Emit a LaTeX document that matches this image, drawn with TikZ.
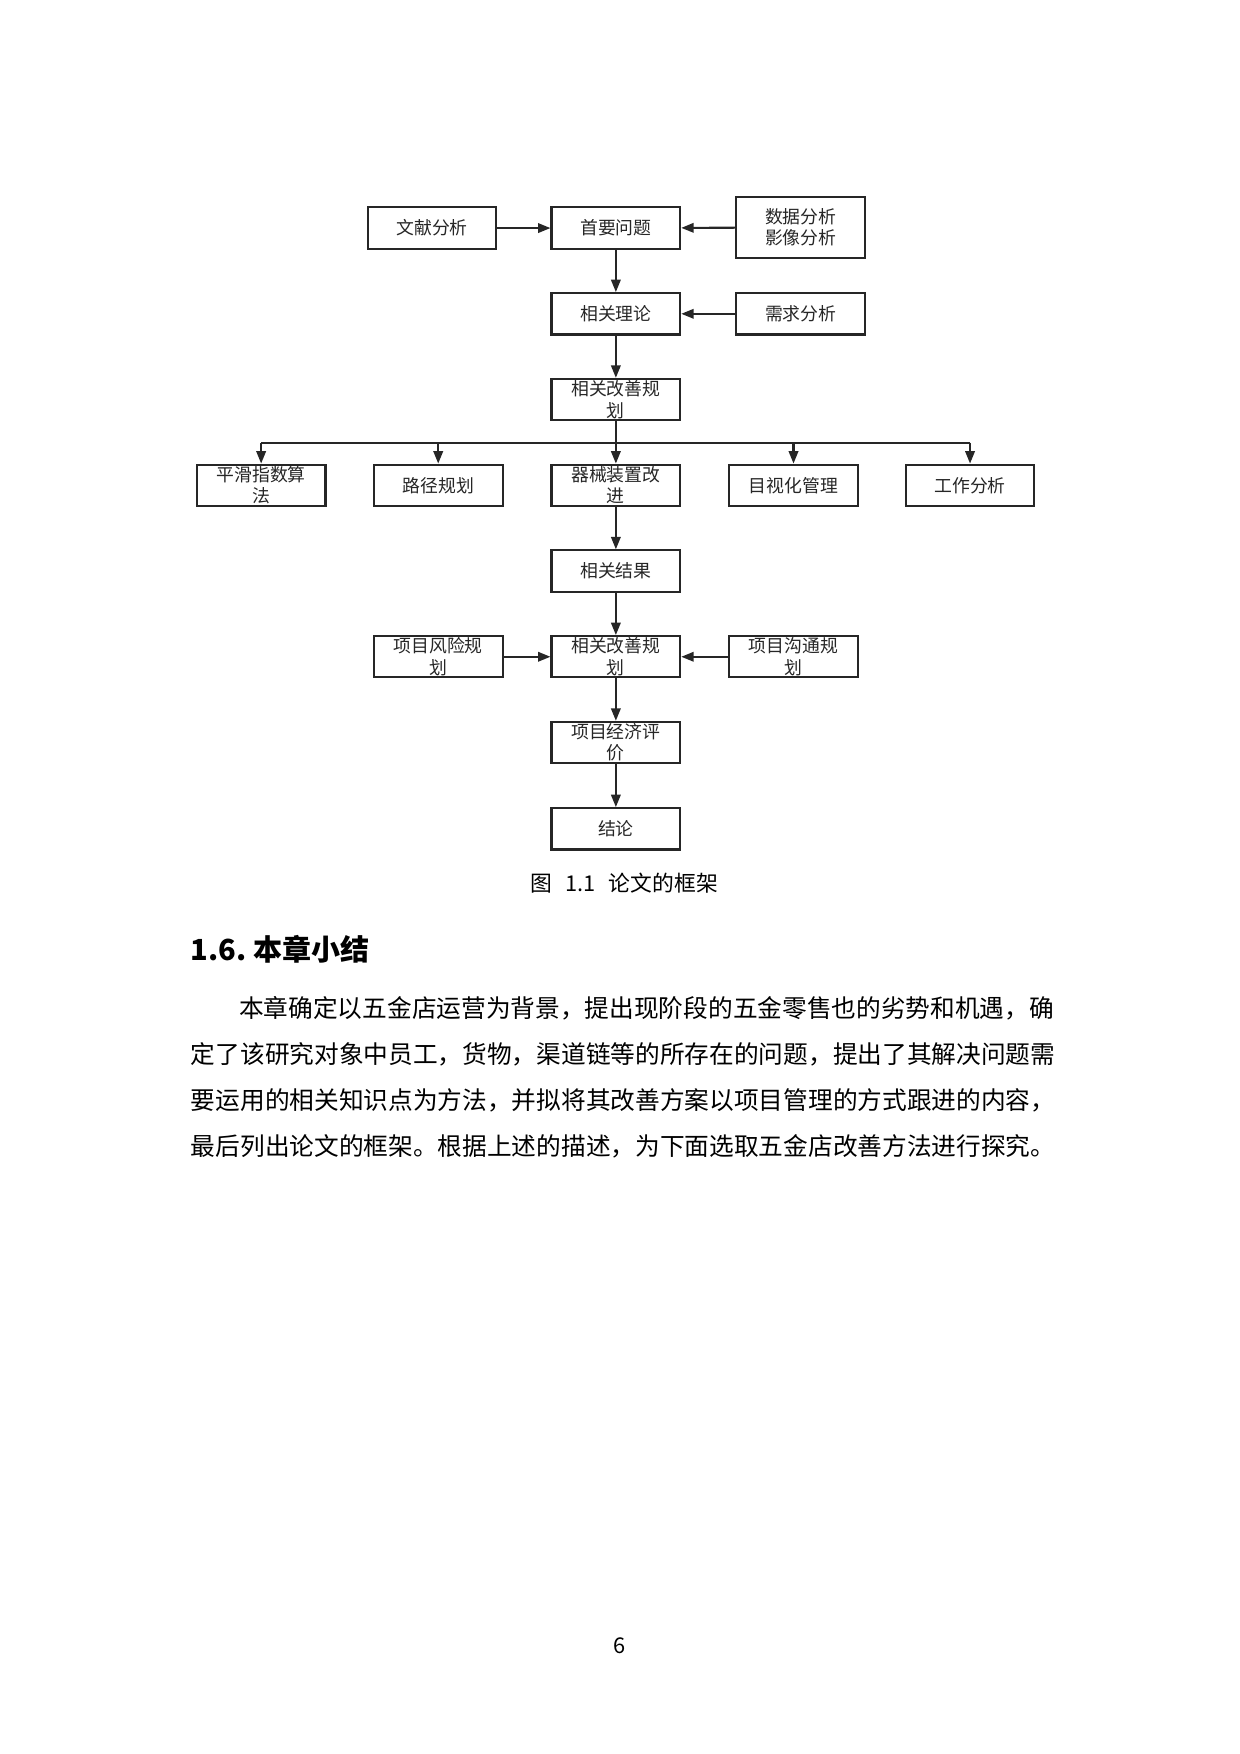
\documentclass[tikz,border=0pt]{standalone}
\usepackage{fontspec}
\setmainfont{Noto Sans CJK SC}
\usetikzlibrary{arrows.meta}

\begin{document}
\begin{tikzpicture}[x=0.018987cm, y=-0.018987cm,
  box/.style={draw=black!85, text=black!85, line width=1pt, minimum width=2.18cm,
    minimum height=0.70cm, inner sep=0pt, align=center,
    font=\fontsize{8.6}{10.3}\selectfont},
  arr/.style={draw=black!85, line width=1pt, -{Triangle[length=2.1mm,width=1.6mm]}},
  bus/.style={draw=black!85, line width=1pt},
  para/.style={anchor=west, inner sep=0pt, font=\fontsize{11.9}{14}\selectfont}]
\useasboundingbox (0,0) rectangle (1106,1565);

% top part
\node[box] (wx) at (385.5,203.5) {文献分析};
\node[box] (sy) at (549.5,203.5) {首要问题};
\node[box, minimum height=1.03cm] (sj) at (714.5,203) {数据分析\\影像分析};
\node[box] (ll) at (549.5,280) {相关理论};
\node[box] (xq) at (714.5,280) {需求分析};
\node[box] (gs) at (549.5,356.5) {相关改善规\\划};

% middle row
\node[box] (ph) at (233,433) {平滑指数算\\法};
\node[box] (lj) at (391,433) {路径规划};
\node[box] (qx) at (549.5,433) {器械装置改\\进};
\node[box] (ms) at (708,433) {目视化管理};
\node[box] (gz) at (865.5,433) {工作分析};
\coordinate (b) at (549.5,395);

% lower part
\node[box] (jg) at (549.5,509.5) {相关结果};
\node[box] (fx) at (391,586) {项目风险规\\划};
\node[box] (gs2) at (549.5,586) {相关改善规\\划};
\node[box] (gt) at (708,586) {项目沟通规\\划};
\node[box] (jj) at (549.5,662.5) {项目经济评\\价};
\node[box] (jl) at (549.5,739.5) {结论};

\draw[arr] (wx) -- (sy);
\draw[arr] (sj) -- (sy);
\draw[arr] (sy) -- (ll);
\draw[arr] (xq) -- (ll);
\draw[arr] (ll) -- (gs);
\draw[arr] (gs) -- (qx);
\draw[bus] (ph.north |- b) -- (gz.north |- b);
\draw[arr] (ph.north |- b) -- (ph);
\draw[arr] (lj.north |- b) -- (lj);
\draw[arr] (ms.north |- b) -- (ms);
\draw[arr] (gz.north |- b) -- (gz);
\draw[arr] (qx) -- (jg);
\draw[arr] (jg) -- (gs2);
\draw[arr] (fx) -- (gs2);
\draw[arr] (gt) -- (gs2);
\draw[arr] (gs2) -- (jj);
\draw[arr] (jj) -- (jl);

% caption and text
\node[font=\fontsize{10.5}{12}\selectfont] (cap) at (557,788) {图\hspace{0.6em}1.1\hspace{0.6em}论文的框架};
\node[anchor=west, inner sep=0pt, font=\fontsize{14}{16}\selectfont\bfseries] (hd) at (170,847) {1.6.\ 本章小结};
\node[para] (l1) at (213,900) {本章确定以五金店运营为背景，提出现阶段的五金零售也的劣势和机遇，确};
\node[para] (l2) at (170,941) {定了该研究对象中员工，货物，渠道链等的所存在的问题，提出了其解决问题需};
\node[para] (l3) at (170,982) {要运用的相关知识点为方法，并拟将其改善方案以项目管理的方式跟进的内容，};
\node[para] (l4) at (170,1023) {最后列出论文的框架。根据上述的描述，为下面选取五金店改善方法进行探究。};
\node[font=\fontsize{10.5}{12}\selectfont] (pg) at (553,1468) {6};
\end{tikzpicture}
\end{document}
